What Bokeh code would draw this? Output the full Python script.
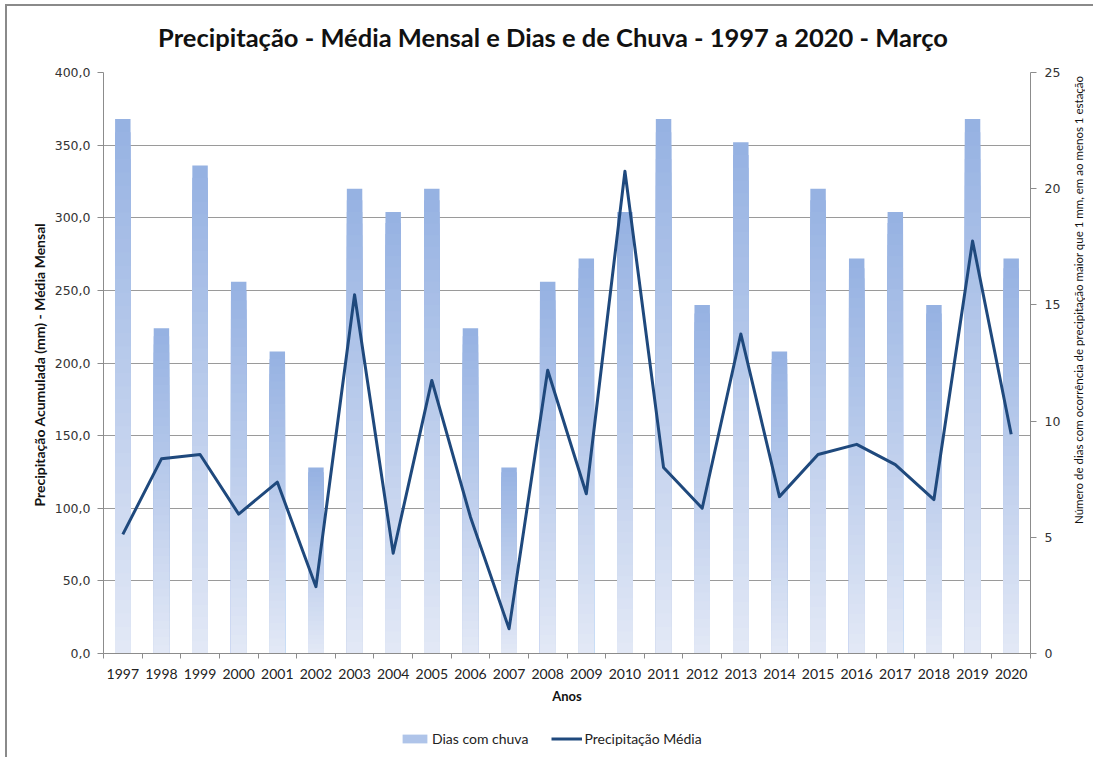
from bokeh.plotting import figure
from bokeh.models import (Range1d, LinearAxis, FixedTicker, Legend, LegendItem,
                          ColumnDataSource, Div)
from bokeh.layouts import column, row
from bokeh.embed import file_html
from bokeh.resources import INLINE

# ---------------- data ----------------
anos = ["1997", "1998", "1999", "2000", "2001", "2002", "2003", "2004", "2005",
        "2006", "2007", "2008", "2009", "2010", "2011", "2012", "2013", "2014",
        "2015", "2016", "2017", "2018", "2019", "2020"]
dias_com_chuva = [23, 14, 21, 16, 13, 8, 20, 19, 20, 14, 8, 16, 17, 19, 23, 15,
                  22, 13, 20, 17, 19, 15, 23, 17]
precipitacao_media = [82, 134, 137, 96, 118, 46, 247, 69, 188, 94, 17, 195, 110,
                      332, 128, 100, 220, 108, 137, 144, 130, 106, 284, 151]
y_left_ticks = [0, 50, 100, 150, 200, 250, 300, 350, 400]
y_left_labels = ["0,0", "50,0", "100,0", "150,0", "200,0", "250,0", "300,0",
                 "350,0", "400,0"]
y_right_ticks = [0, 5, 10, 15, 20, 25]

titulo = "Precipitação - Média Mensal e Dias e de Chuva - 1997 a 2020 - Março"
rotulo_esq = "Precipitação Acumulada  (mm) - Média Mensal"
rotulo_dir = "Número de dias com ocorrência de precipitação maior que 1 mm, em ao menos 1 estação"
rotulo_x = "Anos"
legenda_barras = "Dias com chuva"
legenda_linha = "Precipitação Média"

W = 1056          # width of the chart column
WR = 30           # width of the right-hand title strip
top_rgb = (150, 178, 226)
bot_rgb = (226, 232, 246)
line_col = "#1F497D"

# ---------------- title ----------------
title_div = Div(
    text=('<div style="box-sizing:border-box;width:%dpx;text-align:center;padding-left:36px;'
          'padding-top:16px;font-family:Lato;font-weight:bold;font-size:25.5px;'
          'line-height:30px;color:#111111;white-space:nowrap">%s</div>') % (W, titulo),
    width=W, height=50, margin=0)

# ---------------- main figure ----------------
p = figure(width=W, height=663, output_backend="svg", toolbar_location=None,
           x_range=Range1d(0.5, len(anos) + 0.5), y_range=Range1d(0, 400),
           min_border_left=96, min_border_right=32, min_border_top=16,
           min_border_bottom=66, margin=0)
p.outline_line_color = None
p.background_fill_color = "white"
p.border_fill_color = "white"

p.extra_y_ranges = {"dias": Range1d(0, 25)}

xs = list(range(1, len(anos) + 1))

# gradient bars (per bar, dark top -> light bottom)
N = 40
bx, btop, bcol = [], [], []
for k in range(N):
    frac = 1 - k / N
    t = k / (N - 1)
    c = tuple(int(round(top_rgb[j] + (bot_rgb[j] - top_rgb[j]) * t)) for j in range(3))
    col = "#%02x%02x%02x" % c
    for i, d in enumerate(dias_com_chuva):
        bx.append(xs[i])
        btop.append(d * frac)
        bcol.append(col)
bsrc = ColumnDataSource(dict(x=bx, top=btop, color=bcol))
bars = p.vbar(x="x", top="top", bottom=0, width=0.4, fill_color="color",
              line_color=None, source=bsrc, y_range_name="dias")

line = p.line(xs, precipitacao_media, line_color=line_col, line_width=3,
              line_join="round")

grid_col = "#9a9a9a"
axis_col = "#8c8c8c"

xa = p.xaxis[0]
xa.ticker = FixedTicker(ticks=xs, minor_ticks=[x + 0.5 for x in range(0, len(anos) + 1)])
xa.major_label_overrides = {x: a for x, a in zip(xs, anos)}
xa.major_tick_out = 0
xa.major_tick_in = 0
xa.minor_tick_out = 5
xa.minor_tick_in = 0
xa.minor_tick_line_color = axis_col
xa.axis_line_color = axis_col
xa.major_label_text_font = "Lato"
xa.major_label_text_font_size = "14px"
xa.major_label_text_color = "#222222"
xa.major_label_standoff = 10
xa.axis_label = rotulo_x
xa.axis_label_text_font = "Lato"
xa.axis_label_text_font_style = "bold"
xa.axis_label_text_font_size = "13px"
xa.axis_label_text_color = "#111111"
xa.axis_label_standoff = 6

ya = p.yaxis[0]
ya.ticker = FixedTicker(ticks=y_left_ticks, minor_ticks=[])
ya.major_label_overrides = {v: s for v, s in zip(y_left_ticks, y_left_labels)}
ya.major_tick_out = 6
ya.major_tick_in = 0
ya.minor_tick_out = 0
ya.minor_tick_in = 0
ya.major_tick_line_color = axis_col
ya.axis_line_color = axis_col
ya.major_label_text_font = "DejaVu Sans"
ya.major_label_text_font_size = "12.5px"
ya.major_label_text_color = "#333333"
ya.major_label_standoff = 7
ya.axis_label = rotulo_esq
ya.axis_label_text_font = "Lato"
ya.axis_label_text_font_style = "bold"
ya.axis_label_text_font_size = "14px"
ya.axis_label_text_color = "#111111"
ya.axis_label_standoff = 4

ra = LinearAxis(y_range_name="dias", ticker=FixedTicker(ticks=y_right_ticks, minor_ticks=[]))
ra.major_tick_out = 6
ra.major_tick_in = 0
ra.minor_tick_out = 0
ra.minor_tick_in = 0
ra.major_tick_line_color = axis_col
ra.axis_line_color = axis_col
ra.major_label_text_font = "DejaVu Sans"
ra.major_label_text_font_size = "12.5px"
ra.major_label_text_color = "#333333"
ra.major_label_standoff = 8
p.add_layout(ra, "right")

p.xgrid.visible = False
p.ygrid[0].ticker = FixedTicker(ticks=y_left_ticks)
p.ygrid[0].grid_line_color = grid_col
p.ygrid[0].grid_line_width = 1

# ---------------- legend strip ----------------
lf = figure(width=W, height=38, output_backend="svg", toolbar_location=None,
            x_axis_location=None, y_axis_location=None, min_border=0, margin=0,
            x_range=Range1d(1000, 1001), y_range=Range1d(1000, 1001))
lf.outline_line_color = None
lf.grid.visible = False
mid = N // 3
mid_col = "#%02x%02x%02x" % tuple(int(round(top_rgb[j] + (bot_rgb[j] - top_rgb[j]) * mid / (N - 1))) for j in range(3))
# legend proxies (same data, drawn outside the strip's visible range)
lbar = lf.vbar(x=xs, top=dias_com_chuva, width=0.4, fill_color=mid_col, line_color=None)
lline = lf.line(x=xs, y=precipitacao_media, line_color=line_col, line_width=3)
legend = Legend(items=[LegendItem(label=legenda_barras, renderers=[lbar]),
                       LegendItem(label=legenda_linha, renderers=[lline])],
                orientation="horizontal", location=(296, 10),
                border_line_color=None, background_fill_alpha=0,
                label_text_font="Lato", label_text_font_size="14px",
                label_text_color="#222222", glyph_width=31, glyph_height=11,
                label_standoff=2, spacing=23, padding=4, margin=0)
lf.add_layout(legend, "center")

# ---------------- right-hand axis title (reads bottom-to-top) ----------------
H_TOTAL = 50 + 663 + 38
right_div = Div(
    text=('<div style="position:relative;width:%dpx;height:%dpx">'
          '<div style="position:absolute;left:9px;top:14px;height:560px;width:14px;'
          'writing-mode:vertical-rl;transform:rotate(180deg);text-align:center;'
          'font-family:Lato;font-size:11.5px;line-height:14px;color:#111111;'
          'white-space:nowrap">%s</div></div>') % (WR, H_TOTAL, rotulo_dir),
    width=WR, height=H_TOTAL, margin=0)

page = row(column(title_div, p, lf, spacing=0, margin=0), right_div,
           spacing=0, margin=0,
           styles={"margin-left": "5px", "margin-top": "4px",
                   "border-left": "2px solid #8a8a8a",
                   "border-top": "2px solid #8a8a8a"})

open("out.html", "w").write(file_html(page, INLINE))
